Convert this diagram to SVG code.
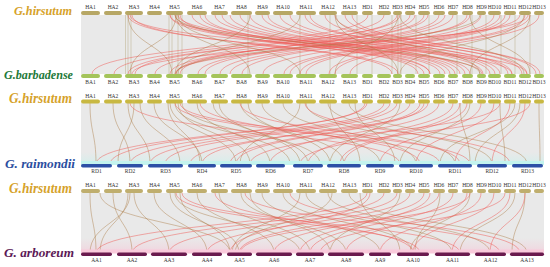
<svg xmlns="http://www.w3.org/2000/svg" width="550" height="267" viewBox="0 0 550 267">
<defs>
<linearGradient id="pk" x1="0" y1="0" x2="0" y2="1"><stop offset="0" stop-color="#f8c0d4" stop-opacity="0"/><stop offset="1" stop-color="#f8c0d4" stop-opacity=".5"/></linearGradient>
<linearGradient id="cy" x1="0" y1="0" x2="0" y2="1"><stop offset="0" stop-color="#c0f4ee" stop-opacity="0"/><stop offset="1" stop-color="#c0f4ee" stop-opacity=".45"/></linearGradient>
</defs>
<style>
.bg{fill:#e9e9e9}
.r path{fill:none;stroke:#ee5a55;stroke-width:.8;opacity:.62}
.b path{fill:none;stroke:#a8743c;stroke-width:.65;opacity:.65}
.v path{fill:none;stroke:#a89860;stroke-width:.5;opacity:.7}
.t{font-family:"Liberation Serif","Times New Roman",serif;font-size:5.5px;fill:#333;text-anchor:middle}
.sp{font-family:"Liberation Serif","Times New Roman",serif;font-weight:bold;font-style:italic}
.h1 rect{fill:#b7a765}
.bb rect{fill:#a4c45a}
.h2 rect{fill:#c8b842}
.h3 rect{fill:#bfae6e}
.rd rect{fill:#2d4fa6}
.aa rect{fill:#6a1a4e}
</style>
<rect class="bg" x="81" y="15" width="463" height="59"/>
<rect class="bg" x="81" y="103" width="463" height="61"/>
<rect x="81" y="152" width="463" height="12" fill="url(#cy)"/>
<rect class="bg" x="81" y="193" width="463" height="60"/>
<rect x="81" y="238" width="463" height="15" fill="url(#pk)"/>
<g id="links">
<g class="v">
<path d="M125.5 15V74M128 15V74M131 15V74M169 15V74M172 15V74M178 15V74M182 15V74M248 15V74M300 15V74M330 15V74M357 15V74M372 15V74M392 15V74M398 15V74M401 15V74M416 15V74M429 15V74M457 15V74M472 15V74M486 15V74M501 15V74M515 15V74M530 15V74"/>
</g>
<g class="r">
<path d="M128 15C128 45 398 45 398 74M132 15C132 45 392 45 392 74M170 15C170 45 424 45 424 74M175 15C175 45 430 45 430 74M180 15C180 45 418 45 418 74M192 15C192 45 440 45 440 74M200 15C200 45 445 45 445 74M215 15C215 45 455 45 455 74M222 15C222 45 450 45 450 74M240 15C240 45 470 45 470 74M250 15C250 45 465 45 465 74M262 15C262 45 483 45 483 74M280 15C280 45 495 45 495 74M290 15C290 45 500 45 500 74M305 15C305 45 512 45 512 74M310 15C310 45 508 45 508 74M325 15C325 45 527 45 527 74M335 15C335 45 522 45 522 74M345 15C345 45 540 45 540 74M352 15C352 45 536 45 536 74M170 15C170 45 512 45 512 74M178 15C178 45 527 45 527 74M130 15C130 45 482 45 482 74M205 15C205 45 430 45 430 74M230 15C230 45 460 45 460 74M268 15C268 45 490 45 490 74"/>
<path d="M368 15C368 45 92 45 92 74M384 15C384 45 114 45 114 74M397 15C397 45 135 45 135 74M400 15C400 45 128 45 128 74M410 15C410 45 155 45 155 74M424 15C424 45 176 45 176 74M428 15C428 45 170 45 170 74M439 15C439 45 198 45 198 74M453 15C453 45 220 45 220 74M467 15C467 45 242 45 242 74M481 15C481 45 263 45 263 74M494 15C494 45 284 45 284 74M500 15C500 45 290 45 290 74M510 15C510 45 306 45 306 74M525 15C525 45 329 45 329 74M530 15C530 45 335 45 335 74M539 15C539 45 350 45 350 74M415 15C415 45 180 45 180 74M520 15C520 45 175 45 175 74M528 15C528 45 132 45 132 74M445 15C445 45 205 45 205 74M470 15C470 45 230 45 230 74M505 15C505 45 300 45 300 74"/>
</g>
<g class="b">
<path d="M128 15C128 45 172 45 172 74M176 15C176 45 130 45 130 74M178 15C178 45 300 45 300 74M300 15C300 45 178 45 178 74M335 15C335 45 398 45 398 74M398 15C398 45 335 45 335 74M336 15C336 45 480 45 480 74M524 15C524 45 400 45 400 74M400 15C400 45 524 45 524 74M250 15C250 45 175 45 175 74M176 15C176 45 250 45 250 74M470 15C470 45 530 45 530 74M530 15C530 45 470 45 470 74M175 15C175 45 480 45 480 74M480 15C480 45 176 45 176 74"/>
</g>
<g class="b">
<path d="M90 103C90 133 96 133 96 164M113 103C113 133 130 133 130 164M128 103C128 133 150 133 150 164M134 103C134 133 118 133 118 164M140 103C140 133 180 133 180 164M154 103C154 133 202 133 202 164M170 103C170 133 236 133 236 164M175 103C175 133 290 133 290 164M178 103C178 133 250 133 250 164M182 103C182 133 320 133 320 164M168 103C168 133 200 133 200 164M197 103C197 133 270 133 270 164M213 103C213 133 308 133 308 164M219 103C219 133 300 133 300 164M241 103C241 133 344 133 344 164M248 103C248 133 330 133 330 164M262 103C262 133 380 133 380 164M283 103C283 133 416 133 416 164M306 103C306 133 455 133 455 164M328 103C328 133 492 133 492 164M349 103C349 133 527 133 527 164M300 103C300 133 240 133 240 164M330 103C330 133 360 133 360 164M400 103C400 133 330 133 330 164M470 103C470 133 400 133 400 164M515 103C515 133 440 133 440 164M520 103C520 133 475 133 475 164M460 103C460 133 470 133 470 164M500 103C500 133 505 133 505 164M355 103C355 133 395 133 395 164M539 103C539 133 540 133 540 164"/>
</g>
<g class="r">
<path d="M367 103C367 133 96 133 96 164M384 103C384 133 130 133 130 164M397 103C397 133 165 133 165 164M410 103C410 133 202 133 202 164M424 103C424 133 236 133 236 164M439 103C439 133 270 133 270 164M453 103C453 133 308 133 308 164M467 103C467 133 344 133 344 164M481 103C481 133 380 133 380 164M494 103C494 133 416 133 416 164M510 103C510 133 455 133 455 164M525 103C525 133 492 133 492 164M365 103C365 133 110 133 110 164M420 103C420 133 230 133 230 164M428 103C428 133 190 133 190 164M460 103C460 133 340 133 340 164M390 103C390 133 150 133 150 164M500 103C500 133 250 133 250 164M530 103C530 133 300 133 300 164M175 103C175 133 440 133 440 164M180 103C180 133 470 133 470 164M200 103C200 133 420 133 420 164M240 103C240 133 460 133 460 164M130 103C130 133 400 133 400 164M305 103C305 133 510 133 510 164"/>
</g>
<g class="b">
<path d="M90 193C90 223 96 223 96 253M113 193C113 223 132 223 132 253M128 193C128 223 100 223 100 253M134 193C134 223 169 223 169 253M154 193C154 223 207 223 207 253M170 193C170 223 239 223 239 253M175 193C175 223 300 223 300 253M180 193C180 223 230 223 230 253M197 193C197 223 274 223 274 253M219 193C219 223 310 223 310 253M241 193C241 223 346 223 346 253M250 193C250 223 330 223 330 253M262 193C262 223 380 223 380 253M283 193C283 223 413 223 413 253M306 193C306 223 452 223 452 253M328 193C328 223 490 223 490 253M349 193C349 223 527 223 527 253M300 193C300 223 232 223 232 253M332 193C332 223 235 223 235 253M400 193C400 223 330 223 330 253M470 193C470 223 410 223 410 253M515 193C515 223 460 223 460 253M525 193C525 223 512 223 512 253M360 193C360 223 400 223 400 253M440 193C440 223 415 223 415 253M100 193C100 223 230 223 230 253M130 193C130 223 90 223 90 253"/>
</g>
<g class="r">
<path d="M367 193C367 223 96 223 96 253M384 193C384 223 132 223 132 253M397 193C397 223 169 223 169 253M410 193C410 223 207 223 207 253M424 193C424 223 239 223 239 253M439 193C439 223 274 223 274 253M453 193C453 223 310 223 310 253M467 193C467 223 346 223 346 253M481 193C481 223 380 223 380 253M494 193C494 223 413 223 413 253M510 193C510 223 452 223 452 253M525 193C525 223 490 223 490 253M370 193C370 223 230 223 230 253M430 193C430 223 300 223 300 253M505 193C505 223 320 223 320 253M470 193C470 223 240 223 240 253M176 193C176 223 420 223 420 253M182 193C182 223 460 223 460 253M215 193C215 223 413 223 413 253M245 193C245 223 500 223 500 253M290 193C290 223 520 223 520 253"/>
</g>
</g>
<g id="species">
<text id="sp-hirsutum-1" class="sp" x="14" y="15" font-size="12.5" textLength="58" lengthAdjust="spacingAndGlyphs" fill="#d6a22a">G.hirsutum</text>
<text id="sp-barbadense" class="sp" x="4" y="79" font-size="12.5" textLength="69" lengthAdjust="spacingAndGlyphs" fill="#1f7a3a">G.barbadense</text>
<text id="sp-hirsutum-2" class="sp" x="9" y="103" font-size="14" textLength="63" lengthAdjust="spacingAndGlyphs" fill="#d6a22a">G.hirsutum</text>
<text id="sp-raimondii" class="sp" x="5" y="168" font-size="13.5" textLength="70" lengthAdjust="spacingAndGlyphs" fill="#2b4ea0">G. raimondii</text>
<text id="sp-hirsutum-3" class="sp" x="9" y="192.5" font-size="14" textLength="63" lengthAdjust="spacingAndGlyphs" fill="#d6a22a">G.hirsutum</text>
<text id="sp-arboreum" class="sp" x="4" y="256.5" font-size="13.5" textLength="70" lengthAdjust="spacingAndGlyphs" fill="#5c1a56">G. arboreum</text>
</g>
<g id="row1-hirsutum" class="h1">
<g id="r1-HA1"><rect x="81" y="11" width="19" height="4" rx="2"/><text class="t" x="90.5" y="9">HA1</text></g>
<g id="r1-HA2"><rect x="104" y="11" width="18" height="4" rx="2"/><text class="t" x="113" y="9">HA2</text></g>
<g id="r1-HA3"><rect x="125" y="11" width="18" height="4" rx="2"/><text class="t" x="134" y="9">HA3</text></g>
<g id="r1-HA4"><rect x="147" y="11" width="15" height="4" rx="2"/><text class="t" x="154.5" y="9">HA4</text></g>
<g id="r1-HA5"><rect x="166" y="11" width="17" height="4" rx="2"/><text class="t" x="174.5" y="9">HA5</text></g>
<g id="r1-HA6"><rect x="187" y="11" width="20" height="4" rx="2"/><text class="t" x="197" y="9">HA6</text></g>
<g id="r1-HA7"><rect x="211" y="11" width="17" height="4" rx="2"/><text class="t" x="219.5" y="9">HA7</text></g>
<g id="r1-HA8"><rect x="231" y="11" width="21" height="4" rx="2"/><text class="t" x="241.5" y="9">HA8</text></g>
<g id="r1-HA9"><rect x="255" y="11" width="15" height="4" rx="2"/><text class="t" x="262.5" y="9">HA9</text></g>
<g id="r1-HA10"><rect x="273" y="11" width="20" height="4" rx="2"/><text class="t" x="283" y="9">HA10</text></g>
<g id="r1-HA11"><rect x="296" y="11" width="20" height="4" rx="2"/><text class="t" x="306" y="9">HA11</text></g>
<g id="r1-HA12"><rect x="319" y="11" width="18" height="4" rx="2"/><text class="t" x="328" y="9">HA12</text></g>
<g id="r1-HA13"><rect x="341" y="11" width="17" height="4" rx="2"/><text class="t" x="349.5" y="9">HA13</text></g>
<g id="r1-HD1"><rect x="362" y="11" width="11" height="4" rx="2"/><text class="t" x="367.5" y="9">HD1</text></g>
<g id="r1-HD2"><rect x="377" y="11" width="14" height="4" rx="2"/><text class="t" x="384" y="9">HD2</text></g>
<g id="r1-HD3"><rect x="393" y="11" width="9" height="4" rx="2"/><text class="t" x="397.5" y="9">HD3</text></g>
<g id="r1-HD4"><rect x="405" y="11" width="10" height="4" rx="2"/><text class="t" x="410" y="9">HD4</text></g>
<g id="r1-HD5"><rect x="418" y="11" width="12" height="4" rx="2"/><text class="t" x="424" y="9">HD5</text></g>
<g id="r1-HD6"><rect x="433" y="11" width="12" height="4" rx="2"/><text class="t" x="439" y="9">HD6</text></g>
<g id="r1-HD7"><rect x="448" y="11" width="10" height="4" rx="2"/><text class="t" x="453" y="9">HD7</text></g>
<g id="r1-HD8"><rect x="462" y="11" width="11" height="4" rx="2"/><text class="t" x="467.5" y="9">HD8</text></g>
<g id="r1-HD9"><rect x="477" y="11" width="9" height="4" rx="2"/><text class="t" x="481.5" y="9">HD9</text></g>
<g id="r1-HD10"><rect x="488" y="11" width="13" height="4" rx="2"/><text class="t" x="494.5" y="9">HD10</text></g>
<g id="r1-HD11"><rect x="504" y="11" width="12" height="4" rx="2"/><text class="t" x="510" y="9">HD11</text></g>
<g id="r1-HD12"><rect x="519" y="11" width="12" height="4" rx="2"/><text class="t" x="525" y="9">HD12</text></g>
<g id="r1-HD13"><rect x="534" y="11" width="10" height="4" rx="2"/><text class="t" x="539" y="9">HD13</text></g>
</g>
<g id="row1-barbadense" class="bb">
<g id="BA1"><rect x="81" y="74" width="19" height="4" rx="2"/><text class="t" x="90.5" y="84">BA1</text></g>
<g id="BA2"><rect x="104" y="74" width="18" height="4" rx="2"/><text class="t" x="113" y="84">BA2</text></g>
<g id="BA3"><rect x="125" y="74" width="18" height="4" rx="2"/><text class="t" x="134" y="84">BA3</text></g>
<g id="BA4"><rect x="147" y="74" width="15" height="4" rx="2"/><text class="t" x="154.5" y="84">BA4</text></g>
<g id="BA5"><rect x="166" y="74" width="17" height="4" rx="2"/><text class="t" x="174.5" y="84">BA5</text></g>
<g id="BA6"><rect x="187" y="74" width="20" height="4" rx="2"/><text class="t" x="197" y="84">BA6</text></g>
<g id="BA7"><rect x="211" y="74" width="17" height="4" rx="2"/><text class="t" x="219.5" y="84">BA7</text></g>
<g id="BA8"><rect x="231" y="74" width="21" height="4" rx="2"/><text class="t" x="241.5" y="84">BA8</text></g>
<g id="BA9"><rect x="255" y="74" width="15" height="4" rx="2"/><text class="t" x="262.5" y="84">BA9</text></g>
<g id="BA10"><rect x="273" y="74" width="20" height="4" rx="2"/><text class="t" x="283" y="84">BA10</text></g>
<g id="BA11"><rect x="296" y="74" width="20" height="4" rx="2"/><text class="t" x="306" y="84">BA11</text></g>
<g id="BA12"><rect x="319" y="74" width="18" height="4" rx="2"/><text class="t" x="328" y="84">BA12</text></g>
<g id="BA13"><rect x="341" y="74" width="17" height="4" rx="2"/><text class="t" x="349.5" y="84">BA13</text></g>
<g id="BD1"><rect x="362" y="74" width="11" height="4" rx="2"/><text class="t" x="367.5" y="84">BD1</text></g>
<g id="BD2"><rect x="377" y="74" width="14" height="4" rx="2"/><text class="t" x="384" y="84">BD2</text></g>
<g id="BD3"><rect x="393" y="74" width="9" height="4" rx="2"/><text class="t" x="397.5" y="84">BD3</text></g>
<g id="BD4"><rect x="405" y="74" width="10" height="4" rx="2"/><text class="t" x="410" y="84">BD4</text></g>
<g id="BD5"><rect x="418" y="74" width="12" height="4" rx="2"/><text class="t" x="424" y="84">BD5</text></g>
<g id="BD6"><rect x="433" y="74" width="12" height="4" rx="2"/><text class="t" x="439" y="84">BD6</text></g>
<g id="BD7"><rect x="448" y="74" width="10" height="4" rx="2"/><text class="t" x="453" y="84">BD7</text></g>
<g id="BD8"><rect x="462" y="74" width="11" height="4" rx="2"/><text class="t" x="467.5" y="84">BD8</text></g>
<g id="BD9"><rect x="477" y="74" width="9" height="4" rx="2"/><text class="t" x="481.5" y="84">BD9</text></g>
<g id="BD10"><rect x="488" y="74" width="13" height="4" rx="2"/><text class="t" x="494.5" y="84">BD10</text></g>
<g id="BD11"><rect x="504" y="74" width="12" height="4" rx="2"/><text class="t" x="510" y="84">BD11</text></g>
<g id="BD12"><rect x="519" y="74" width="12" height="4" rx="2"/><text class="t" x="525" y="84">BD12</text></g>
<g id="BD13"><rect x="534" y="74" width="10" height="4" rx="2"/><text class="t" x="539" y="84">BD13</text></g>
</g>
<g id="row2-hirsutum" class="h2">
<g id="r2-HA1"><rect x="81" y="99.5" width="19" height="4" rx="2"/><text class="t" x="90.5" y="97.5">HA1</text></g>
<g id="r2-HA2"><rect x="104" y="99.5" width="18" height="4" rx="2"/><text class="t" x="113" y="97.5">HA2</text></g>
<g id="r2-HA3"><rect x="125" y="99.5" width="18" height="4" rx="2"/><text class="t" x="134" y="97.5">HA3</text></g>
<g id="r2-HA4"><rect x="147" y="99.5" width="15" height="4" rx="2"/><text class="t" x="154.5" y="97.5">HA4</text></g>
<g id="r2-HA5"><rect x="166" y="99.5" width="17" height="4" rx="2"/><text class="t" x="174.5" y="97.5">HA5</text></g>
<g id="r2-HA6"><rect x="187" y="99.5" width="20" height="4" rx="2"/><text class="t" x="197" y="97.5">HA6</text></g>
<g id="r2-HA7"><rect x="211" y="99.5" width="17" height="4" rx="2"/><text class="t" x="219.5" y="97.5">HA7</text></g>
<g id="r2-HA8"><rect x="231" y="99.5" width="21" height="4" rx="2"/><text class="t" x="241.5" y="97.5">HA8</text></g>
<g id="r2-HA9"><rect x="255" y="99.5" width="15" height="4" rx="2"/><text class="t" x="262.5" y="97.5">HA9</text></g>
<g id="r2-HA10"><rect x="273" y="99.5" width="20" height="4" rx="2"/><text class="t" x="283" y="97.5">HA10</text></g>
<g id="r2-HA11"><rect x="296" y="99.5" width="20" height="4" rx="2"/><text class="t" x="306" y="97.5">HA11</text></g>
<g id="r2-HA12"><rect x="319" y="99.5" width="18" height="4" rx="2"/><text class="t" x="328" y="97.5">HA12</text></g>
<g id="r2-HA13"><rect x="341" y="99.5" width="17" height="4" rx="2"/><text class="t" x="349.5" y="97.5">HA13</text></g>
<g id="r2-HD1"><rect x="362" y="99.5" width="11" height="4" rx="2"/><text class="t" x="367.5" y="97.5">HD1</text></g>
<g id="r2-HD2"><rect x="377" y="99.5" width="14" height="4" rx="2"/><text class="t" x="384" y="97.5">HD2</text></g>
<g id="r2-HD3"><rect x="393" y="99.5" width="9" height="4" rx="2"/><text class="t" x="397.5" y="97.5">HD3</text></g>
<g id="r2-HD4"><rect x="405" y="99.5" width="10" height="4" rx="2"/><text class="t" x="410" y="97.5">HD4</text></g>
<g id="r2-HD5"><rect x="418" y="99.5" width="12" height="4" rx="2"/><text class="t" x="424" y="97.5">HD5</text></g>
<g id="r2-HD6"><rect x="433" y="99.5" width="12" height="4" rx="2"/><text class="t" x="439" y="97.5">HD6</text></g>
<g id="r2-HD7"><rect x="448" y="99.5" width="10" height="4" rx="2"/><text class="t" x="453" y="97.5">HD7</text></g>
<g id="r2-HD8"><rect x="462" y="99.5" width="11" height="4" rx="2"/><text class="t" x="467.5" y="97.5">HD8</text></g>
<g id="r2-HD9"><rect x="477" y="99.5" width="9" height="4" rx="2"/><text class="t" x="481.5" y="97.5">HD9</text></g>
<g id="r2-HD10"><rect x="488" y="99.5" width="13" height="4" rx="2"/><text class="t" x="494.5" y="97.5">HD10</text></g>
<g id="r2-HD11"><rect x="504" y="99.5" width="12" height="4" rx="2"/><text class="t" x="510" y="97.5">HD11</text></g>
<g id="r2-HD12"><rect x="519" y="99.5" width="12" height="4" rx="2"/><text class="t" x="525" y="97.5">HD12</text></g>
<g id="r2-HD13"><rect x="534" y="99.5" width="10" height="4" rx="2"/><text class="t" x="539" y="97.5">HD13</text></g>
</g>
<g id="row2-raimondii" class="rd">
<rect x="81" y="161" width="463" height="4" style="fill:#c4f3ee"/>
<g id="RD1"><rect x="81" y="164" width="31" height="3.5" rx="1.7"/><text class="t" x="96.5" y="172.5">RD1</text></g>
<g id="RD2"><rect x="117" y="164" width="26" height="3.5" rx="1.7"/><text class="t" x="130" y="172.5">RD2</text></g>
<g id="RD3"><rect x="148" y="164" width="35" height="3.5" rx="1.7"/><text class="t" x="165.5" y="172.5">RD3</text></g>
<g id="RD4"><rect x="188" y="164" width="28" height="3.5" rx="1.7"/><text class="t" x="202" y="172.5">RD4</text></g>
<g id="RD5"><rect x="220" y="164" width="32" height="3.5" rx="1.7"/><text class="t" x="236" y="172.5">RD5</text></g>
<g id="RD6"><rect x="256" y="164" width="29" height="3.5" rx="1.7"/><text class="t" x="270.5" y="172.5">RD6</text></g>
<g id="RD7"><rect x="293" y="164" width="30" height="3.5" rx="1.7"/><text class="t" x="308" y="172.5">RD7</text></g>
<g id="RD8"><rect x="327" y="164" width="34" height="3.5" rx="1.7"/><text class="t" x="344" y="172.5">RD8</text></g>
<g id="RD9"><rect x="366" y="164" width="28" height="3.5" rx="1.7"/><text class="t" x="380" y="172.5">RD9</text></g>
<g id="RD10"><rect x="399" y="164" width="34" height="3.5" rx="1.7"/><text class="t" x="416" y="172.5">RD10</text></g>
<g id="RD11"><rect x="438" y="164" width="34" height="3.5" rx="1.7"/><text class="t" x="455" y="172.5">RD11</text></g>
<g id="RD12"><rect x="477" y="164" width="30" height="3.5" rx="1.7"/><text class="t" x="492" y="172.5">RD12</text></g>
<g id="RD13"><rect x="512" y="164" width="31" height="3.5" rx="1.7"/><text class="t" x="527.5" y="172.5">RD13</text></g>
</g>
<g id="row3-hirsutum" class="h3">
<g id="r3-HA1"><rect x="81" y="189" width="19" height="4" rx="2"/><text class="t" x="90.5" y="187">HA1</text></g>
<g id="r3-HA2"><rect x="104" y="189" width="18" height="4" rx="2"/><text class="t" x="113" y="187">HA2</text></g>
<g id="r3-HA3"><rect x="125" y="189" width="18" height="4" rx="2"/><text class="t" x="134" y="187">HA3</text></g>
<g id="r3-HA4"><rect x="147" y="189" width="15" height="4" rx="2"/><text class="t" x="154.5" y="187">HA4</text></g>
<g id="r3-HA5"><rect x="166" y="189" width="17" height="4" rx="2"/><text class="t" x="174.5" y="187">HA5</text></g>
<g id="r3-HA6"><rect x="187" y="189" width="20" height="4" rx="2"/><text class="t" x="197" y="187">HA6</text></g>
<g id="r3-HA7"><rect x="211" y="189" width="17" height="4" rx="2"/><text class="t" x="219.5" y="187">HA7</text></g>
<g id="r3-HA8"><rect x="231" y="189" width="21" height="4" rx="2"/><text class="t" x="241.5" y="187">HA8</text></g>
<g id="r3-HA9"><rect x="255" y="189" width="15" height="4" rx="2"/><text class="t" x="262.5" y="187">HA9</text></g>
<g id="r3-HA10"><rect x="273" y="189" width="20" height="4" rx="2"/><text class="t" x="283" y="187">HA10</text></g>
<g id="r3-HA11"><rect x="296" y="189" width="20" height="4" rx="2"/><text class="t" x="306" y="187">HA11</text></g>
<g id="r3-HA12"><rect x="319" y="189" width="18" height="4" rx="2"/><text class="t" x="328" y="187">HA12</text></g>
<g id="r3-HA13"><rect x="341" y="189" width="17" height="4" rx="2"/><text class="t" x="349.5" y="187">HA13</text></g>
<g id="r3-HD1"><rect x="362" y="189" width="11" height="4" rx="2"/><text class="t" x="367.5" y="187">HD1</text></g>
<g id="r3-HD2"><rect x="377" y="189" width="14" height="4" rx="2"/><text class="t" x="384" y="187">HD2</text></g>
<g id="r3-HD3"><rect x="393" y="189" width="9" height="4" rx="2"/><text class="t" x="397.5" y="187">HD3</text></g>
<g id="r3-HD4"><rect x="405" y="189" width="10" height="4" rx="2"/><text class="t" x="410" y="187">HD4</text></g>
<g id="r3-HD5"><rect x="418" y="189" width="12" height="4" rx="2"/><text class="t" x="424" y="187">HD5</text></g>
<g id="r3-HD6"><rect x="433" y="189" width="12" height="4" rx="2"/><text class="t" x="439" y="187">HD6</text></g>
<g id="r3-HD7"><rect x="448" y="189" width="10" height="4" rx="2"/><text class="t" x="453" y="187">HD7</text></g>
<g id="r3-HD8"><rect x="462" y="189" width="11" height="4" rx="2"/><text class="t" x="467.5" y="187">HD8</text></g>
<g id="r3-HD9"><rect x="477" y="189" width="9" height="4" rx="2"/><text class="t" x="481.5" y="187">HD9</text></g>
<g id="r3-HD10"><rect x="488" y="189" width="13" height="4" rx="2"/><text class="t" x="494.5" y="187">HD10</text></g>
<g id="r3-HD11"><rect x="504" y="189" width="12" height="4" rx="2"/><text class="t" x="510" y="187">HD11</text></g>
<g id="r3-HD12"><rect x="519" y="189" width="12" height="4" rx="2"/><text class="t" x="525" y="187">HD12</text></g>
<g id="r3-HD13"><rect x="534" y="189" width="10" height="4" rx="2"/><text class="t" x="539" y="187">HD13</text></g>
</g>
<g id="row3-arboreum" class="aa">
<rect x="81" y="249.5" width="463" height="4" style="fill:#f9cadb"/>
<g id="AA1"><rect x="81" y="252.5" width="31" height="3.5" rx="1.7"/><text class="t" x="96.5" y="262">AA1</text></g>
<g id="AA2"><rect x="117" y="252.5" width="30" height="3.5" rx="1.7"/><text class="t" x="132" y="262">AA2</text></g>
<g id="AA3"><rect x="151" y="252.5" width="36" height="3.5" rx="1.7"/><text class="t" x="169" y="262">AA3</text></g>
<g id="AA4"><rect x="192" y="252.5" width="30" height="3.5" rx="1.7"/><text class="t" x="207" y="262">AA4</text></g>
<g id="AA5"><rect x="227" y="252.5" width="25" height="3.5" rx="1.7"/><text class="t" x="239.5" y="262">AA5</text></g>
<g id="AA6"><rect x="256" y="252.5" width="36" height="3.5" rx="1.7"/><text class="t" x="274" y="262">AA6</text></g>
<g id="AA7"><rect x="296" y="252.5" width="28" height="3.5" rx="1.7"/><text class="t" x="310" y="262">AA7</text></g>
<g id="AA8"><rect x="328" y="252.5" width="36" height="3.5" rx="1.7"/><text class="t" x="346" y="262">AA8</text></g>
<g id="AA9"><rect x="369" y="252.5" width="22" height="3.5" rx="1.7"/><text class="t" x="380" y="262">AA9</text></g>
<g id="AA10"><rect x="397" y="252.5" width="32" height="3.5" rx="1.7"/><text class="t" x="413" y="262">AA10</text></g>
<g id="AA11"><rect x="435" y="252.5" width="35" height="3.5" rx="1.7"/><text class="t" x="452.5" y="262">AA11</text></g>
<g id="AA12"><rect x="475" y="252.5" width="31" height="3.5" rx="1.7"/><text class="t" x="490.5" y="262">AA12</text></g>
<g id="AA13"><rect x="510" y="252.5" width="34" height="3.5" rx="1.7"/><text class="t" x="527" y="262">AA13</text></g>
</g>
</svg>
